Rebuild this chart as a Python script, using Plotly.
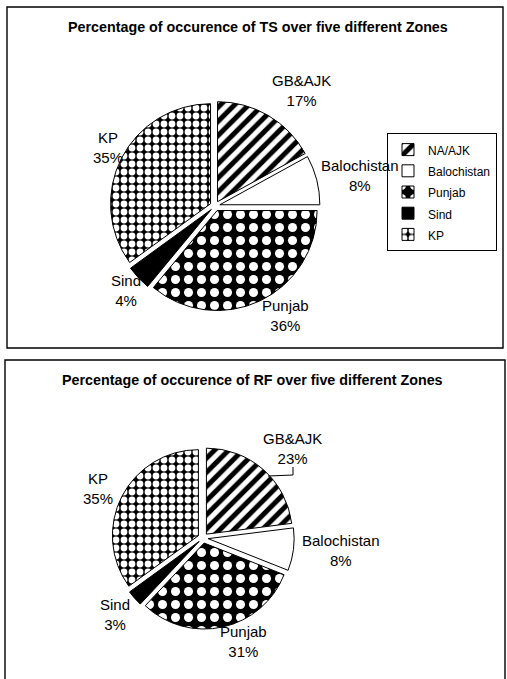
import plotly.graph_objects as go

W, H = 507, 679

# Zone names as shown in the legend and next to the slices
legend_names = ["NA/AJK", "Balochistan", "Punjab", "Sind", "KP"]
slice_names = ["GB&AJK", "Balochistan", "Punjab", "Sind", "KP"]

# Percentage of occurrence per zone
ts_pct = [17, 8, 36, 4, 35]
rf_pct = [23, 8, 31, 3, 35]

ts_title = "Percentage of occurence of TS over five different Zones"
rf_title = "Percentage of occurence of RF over five different Zones"

# Fill styles per zone (hatch shape, foreground, background, tile size, solidity)
fill_color = ["white", "white", "black", "black", "black"]
hatch_shape = ["/", "", ".", "", "."]
hatch_fg = ["black", "white", "white", "black", "white"]
hatch_bg = ["white", "white", "black", "black", "black"]
hatch_size = [10, 8, 13, 8, 8]
hatch_solid = [0.5, 0.3, 0.38, 0.3, 0.56]

FONT = "Arial, Liberation Sans, sans-serif"


def px_x(x):
    return x / W


def px_y(y):
    return 1 - y / H


def make_pie(values, cx, cy, r, pull, legend):
    half = r * (1 + pull)
    return go.Pie(
        labels=[f'<span style="font-size:12px">{n}</span>' for n in legend_names],
        values=values,
        sort=False,
        direction="clockwise",
        rotation=0,
        pull=[pull] * len(values),
        textinfo="none",
        marker=dict(
            colors=fill_color,
            line=dict(color="black", width=1),
            pattern=dict(
                shape=hatch_shape,
                fgcolor=hatch_fg,
                bgcolor=hatch_bg,
                size=hatch_size,
                solidity=hatch_solid,
                fillmode="replace",
            ),
        ),
        domain=dict(
            x=[px_x(cx - half), px_x(cx + half)],
            y=[px_y(cy + half), px_y(cy - half)],
        ),
        legend=legend,
    )


fig = go.Figure()
fig.add_trace(make_pie(ts_pct, 215, 206, 100, 0.05, "legend"))
fig.add_trace(make_pie(rf_pct, 203, 538, 86, 0.06, "legend2"))

# Slice labels: name and percentage
ts_label_pos = [(301, 91), (360, 176), (285, 315), (126, 290), (108, 147)]
rf_label_pos = [(292, 448), (341, 550), (243, 641), (115, 614), (98, 488)]

annotations = []
for values, positions in ((ts_pct, ts_label_pos), (rf_pct, rf_label_pos)):
    for name, v, (x, y) in zip(slice_names, values, positions):
        annotations.append(dict(
            text=f"{name}<br>{v}%", x=px_x(x), y=px_y(y),
            xref="paper", yref="paper", xanchor="center", yanchor="middle",
            showarrow=False, align="center",
            font=dict(family=FONT, size=15, color="black"),
        ))

for text, (x, y) in ((ts_title, (258, 27)), (rf_title, (252, 380))):
    annotations.append(dict(
        text=f"<b>{text}</b>", x=px_x(x), y=px_y(y),
        xref="paper", yref="paper", xanchor="center", yanchor="middle",
        showarrow=False, font=dict(family=FONT, size=14.3, color="black"),
    ))

shapes = [
    # chart panel frames
    dict(type="rect", xref="paper", yref="paper",
         x0=px_x(7), x1=px_x(503), y0=px_y(348), y1=px_y(7),
         line=dict(color="black", width=1.4), layer="below"),
    dict(type="rect", xref="paper", yref="paper",
         x0=px_x(5), x1=px_x(505), y0=px_y(700), y1=px_y(360),
         line=dict(color="black", width=1.4), layer="below"),
    # leader line for the GB&AJK label of the RF chart
    dict(type="path", xref="paper", yref="paper",
         path=(f"M {px_x(293)},{px_y(467)} L {px_x(293)},{px_y(475)} "
               f"L {px_x(268)},{px_y(476)}"),
         line=dict(color="black", width=1)),
]

legend_style = dict(
    xanchor="left", yanchor="top",
    bordercolor="black", borderwidth=1, bgcolor="white",
    font=dict(family=FONT, size=14, color="black"),
    traceorder="normal",
)

fig.update_layout(
    width=W, height=H,
    margin=dict(l=0, r=0, t=0, b=0),
    paper_bgcolor="white", plot_bgcolor="white",
    showlegend=True,
    legend=dict(x=px_x(387), y=px_y(133), **legend_style),
    legend2=dict(x=px_x(387), y=px_y(479), **legend_style),
    annotations=annotations,
    shapes=shapes,
    font=dict(family=FONT, color="black"),
)

fig.write_html("out.html")
